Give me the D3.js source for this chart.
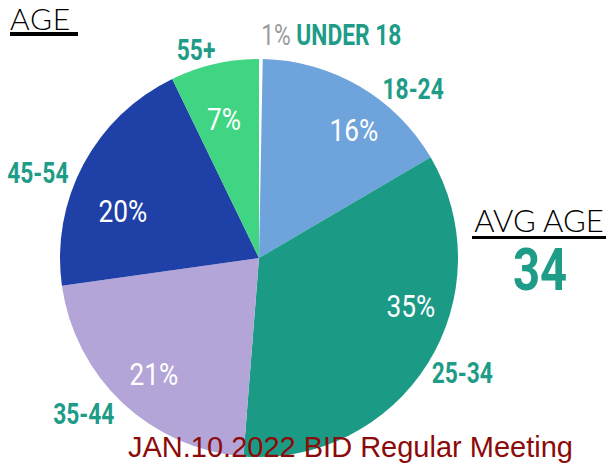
<!DOCTYPE html>
<html>
<head>
<meta charset="utf-8">
<title>Age</title>
<script src="https://d3js.org/d3.v7.min.js"></script>
<style>
  body { margin: 0; background: #fff; }
  svg { display: block; }
</style>
</head>
<body>
<div id="vis"></div>
<script>
// data
var groups = ["UNDER 18", "18-24", "25-34", "35-44", "45-54", "55+"];
var pct = [1, 16, 35, 21, 20, 7];                 // printed labels
var share = [0.3, 16.3, 34.8, 21.6, 20.1, 7.2];   // slice sizes as drawn
var colors = ["#ffffff", "#6fa3dc", "#1b9a86", "#b3a5d8", "#1f40a6", "#3fd582"];
var avgAge = 34;

var width = 608, height = 465;
var cx = 259, cy = 258, r = 199;

// label nudges from the default polar spot (inner / outer)
var innerNudge = [[0, 0], [18, 3], [23, -33], [-1, 5], [-2, 24], [-1, 9]];
var outerNudge = [[0, 4], [39, 27], [10, -7], [-19, -11], [-20, 22], [-12, 13]];

// condensed look: Roboto squeezed horizontally
var labelFont = "Roboto, 'DejaVu Sans', sans-serif";
var squeeze = 0.76;
var teal = "#1e9c87";

var svg = d3.select("#vis").append("svg")
    .attr("width", width)
    .attr("height", height);

var rows = groups.map(function(g, i) {
  return { group: g, pct: pct[i], share: share[i], color: colors[i] };
});

var pie = d3.pie().sort(null).value(function(d) { return d.share; });
var arcs = pie(rows);

var arc = d3.arc().innerRadius(0).outerRadius(r);
var innerArc = d3.arc().innerRadius(152).outerRadius(152);
var outerArc = d3.arc().innerRadius(228).outerRadius(228);

var g = svg.append("g").attr("transform", "translate(" + cx + "," + cy + ")");

g.selectAll("path.slice")
    .data(arcs)
    .enter()
    .append("path")
    .attr("class", "slice")
    .attr("d", arc)
    .attr("fill", function(d) { return d.data.color; });

function place(p, nudge, sx) {
  return "translate(" + (p[0] + nudge[0]) + "," + (p[1] + nudge[1]) + ") scale(" + sx + ",1)";
}

// percent labels inside slices (skip the sliver)
g.selectAll("text.pct")
    .data(arcs.slice(1))
    .enter()
    .append("text")
    .attr("class", "pct")
    .attr("transform", function(d) { return place(innerArc.centroid(d), innerNudge[d.index], 0.82); })
    .attr("text-anchor", "middle")
    .attr("dy", "0.36em")
    .attr("fill", "#fff")
    .attr("font-family", labelFont)
    .attr("font-size", 32)
    .text(function(d) { return d.data.pct + "%"; });

// category labels around the pie
g.selectAll("text.cat")
    .data(arcs.slice(1))
    .enter()
    .append("text")
    .attr("class", "cat")
    .attr("transform", function(d) { return place(outerArc.centroid(d), outerNudge[d.index], squeeze); })
    .attr("text-anchor", "middle")
    .attr("dy", "0.36em")
    .attr("fill", teal)
    .attr("font-family", labelFont)
    .attr("font-weight", "bold")
    .attr("font-size", 30)
    .text(function(d) { return d.data.group; });

// the sliver gets its label at the top: "1% UNDER 18"
var a0 = arcs[0];
var topLabel = g.append("text")
    .attr("transform", place(outerArc.centroid(a0), outerNudge[0], squeeze))
    .attr("dy", "0.36em")
    .attr("font-family", labelFont)
    .attr("font-size", 30);
topLabel.append("tspan").attr("fill", "#9a9a9a").text(a0.data.pct + "% ");
topLabel.append("tspan").attr("fill", teal).attr("font-weight", "bold").text(a0.data.group);

// titles
svg.append("text")
    .attr("x", 10)
    .attr("y", 30)
    .attr("font-family", "Lato, 'Open Sans', sans-serif")
    .attr("font-weight", 300)
    .attr("font-size", 30)
    .attr("letter-spacing", 0.8)
    .attr("fill", "#000")
    .text("AGE");
svg.append("rect")
    .attr("x", 10).attr("y", 32)
    .attr("width", 68).attr("height", 4)
    .attr("fill", "#000");

svg.append("text")
    .attr("x", 539)
    .attr("y", 232)
    .attr("text-anchor", "middle")
    .attr("font-family", "Lato, 'Open Sans', sans-serif")
    .attr("font-weight", 300)
    .attr("font-size", 31)
    .attr("fill", "#000")
    .text("AVG AGE");
svg.append("rect")
    .attr("x", 472).attr("y", 236)
    .attr("width", 134).attr("height", 3)
    .attr("fill", "#000");

svg.append("text")
    .attr("transform", "translate(540,290) scale(0.8,1)")
    .attr("text-anchor", "middle")
    .attr("font-family", labelFont)
    .attr("font-weight", "bold")
    .attr("font-size", 59)
    .attr("fill", teal)
    .text(avgAge);

svg.append("text")
    .attr("x", 128)
    .attr("y", 457)
    .attr("font-family", "'Liberation Sans', Arial, sans-serif")
    .attr("font-size", 29)
    .attr("fill", "#8b0a0a")
    .text("JAN.10.2022 BID Regular Meeting");
</script>
</body>
</html>
